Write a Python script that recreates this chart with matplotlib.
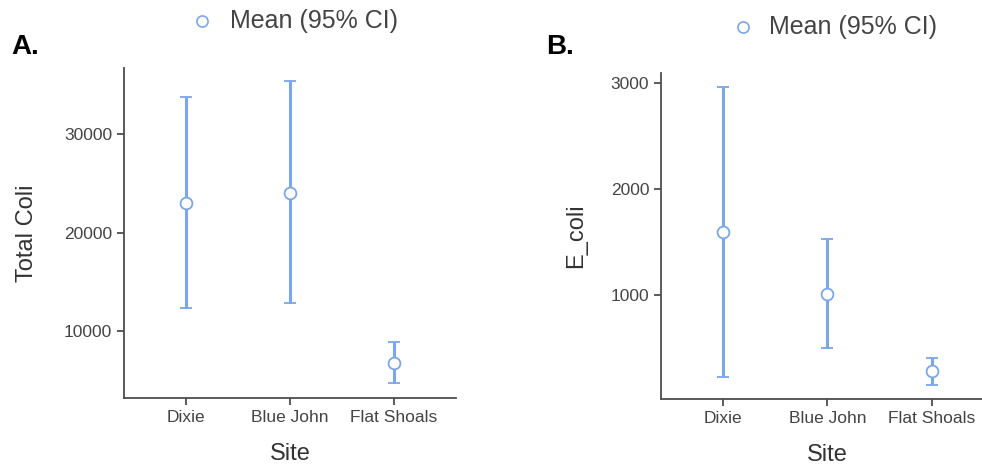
import matplotlib.pyplot as plt

plt.rcParams["font.family"] = ["Liberation Sans", "DejaVu Sans"]

sites = ["Dixie", "Blue John", "Flat Shoals"]

total_mean = [23076, 24090, 6770]
total_low = [12355, 12863, 4741]
total_high = [33838, 35400, 8900]

ecoli_mean = [1592, 1009, 282]
ecoli_low = [228, 496, 150]
ecoli_high = [2962, 1526, 407]

BLUE = "#7aa6ec"
GREY = "#4d4d4d"


def draw_panel(ax, mean, low, high, ylabel, ylim, yticks, ylabelpad):
    x = list(range(len(sites)))
    err = [[m - lo for m, lo in zip(mean, low)], [hi - m for m, hi in zip(mean, high)]]
    ax.errorbar(x, mean, yerr=err, fmt="o", color=BLUE, ecolor=BLUE, elinewidth=2.2,
                capsize=4, capthick=2.2, markersize=8.5, markerfacecolor="white",
                markeredgecolor=BLUE, markeredgewidth=1.3, zorder=3)
    ax.set_xlim(-0.6, 2.6)
    ax.set_ylim(*ylim)
    ax.set_xticks(x)
    ax.set_xticklabels(sites)
    ax.set_yticks(yticks)
    ax.set_xlabel("Site", fontsize=17, color="#333333", labelpad=13)
    ax.set_ylabel(ylabel, fontsize=17, color="#333333", labelpad=ylabelpad)
    for side in ("top", "right"):
        ax.spines[side].set_visible(False)
    for side in ("left", "bottom"):
        ax.spines[side].set_color(GREY)
        ax.spines[side].set_linewidth(1.3)
    ax.tick_params(axis="both", colors=GREY, labelcolor="#444444", labelsize=12.5,
                   length=5, width=1.3)


fig = plt.figure(figsize=(9.82, 4.67), dpi=100)
ax1 = fig.add_axes([0.1263, 0.1478, 0.3381, 0.7066])
ax2 = fig.add_axes([0.6731, 0.145, 0.3391, 0.6993])

draw_panel(ax1, total_mean, total_low, total_high, "Total Coli", (3249, 36751), [10000, 20000, 30000], 19)
draw_panel(ax2, ecoli_mean, ecoli_low, ecoli_high, "E_coli", (14, 3100), [1000, 2000, 3000], 17)

fig.text(0.012, 0.9, "A.", fontsize=20, fontweight="bold", va="center")
fig.text(0.556, 0.9, "B.", fontsize=20, fontweight="bold", va="center")

for mx, my, tx in [(202, 21, 230), (743, 27, 769)]:
    fig.lines.append(plt.Line2D([mx / 982], [1 - my / 467], marker="o", markersize=8,
                                markerfacecolor="white", markeredgecolor=BLUE,
                                markeredgewidth=1.2, transform=fig.transFigure))
    fig.text(tx / 982, 1 - my / 467, "Mean (95% CI)", fontsize=18, color="#444444",
             va="center", ha="left")

fig.savefig("out.png", dpi=100)
